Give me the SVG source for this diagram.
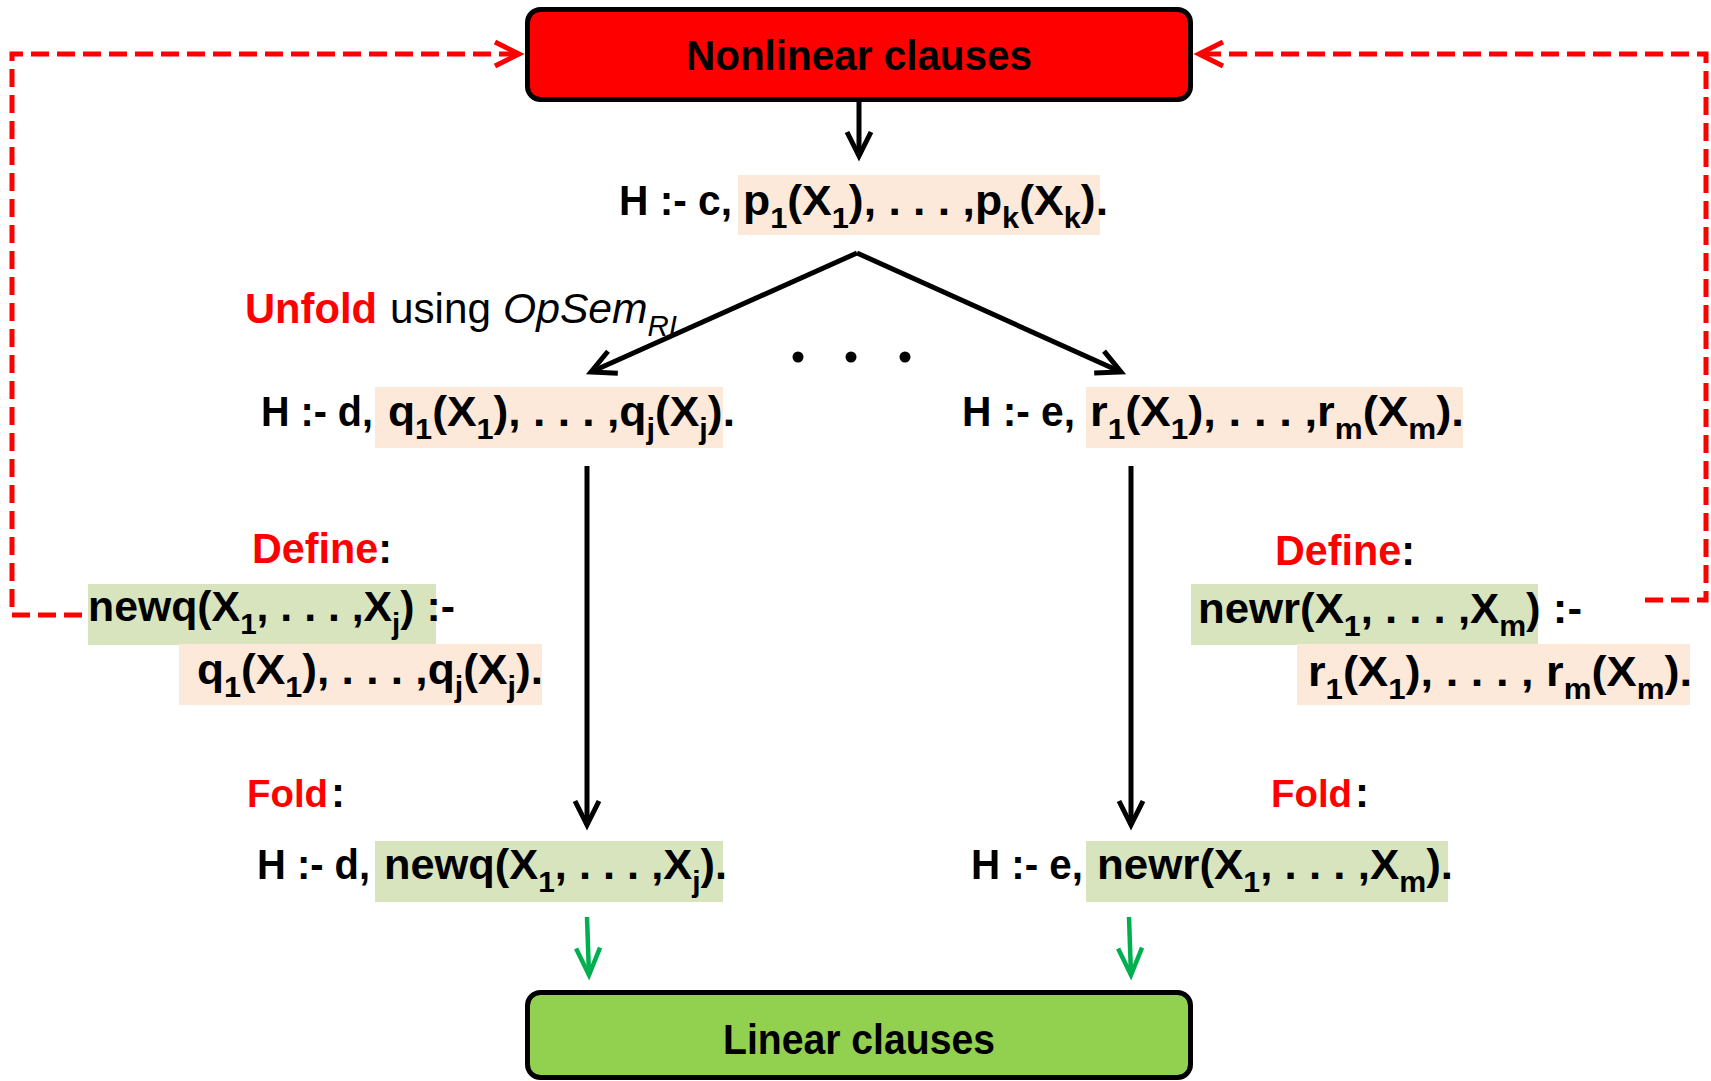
<svg xmlns="http://www.w3.org/2000/svg" width="1711" height="1081" viewBox="0 0 1711 1081">
<style>
.t{font-family:"Liberation Sans",Arial,sans-serif;font-weight:bold;font-size:42px;fill:#000}
.f{font-size:38px}
.s{font-size:29px}
.red{fill:#ff0000}
.n{font-weight:normal}
.i{font-style:italic;font-weight:normal}
.peach{fill:#fde9d9}
.lg{fill:#d7e4bd}
.blk{stroke:#000;stroke-width:5;fill:none}
.grn{stroke:#00b050;stroke-width:4.5;fill:none}
.dash{stroke:#ff0000;stroke-width:5;fill:none;stroke-dasharray:18 8}
</style>
<defs>
<marker id="ab" markerUnits="userSpaceOnUse" markerWidth="40" markerHeight="40" refX="0" refY="0" orient="auto" overflow="visible"><path d="M-24,-12 L0,0 L-24,12" fill="none" stroke="#000" stroke-width="5"/></marker>
<marker id="ag" markerUnits="userSpaceOnUse" markerWidth="40" markerHeight="40" refX="0" refY="0" orient="auto" overflow="visible"><path d="M-27,-12 L0,0 L-27,12" fill="none" stroke="#00b050" stroke-width="4.5"/></marker>
<marker id="ar" markerUnits="userSpaceOnUse" markerWidth="40" markerHeight="40" refX="0" refY="0" orient="auto" overflow="visible"><path d="M-24,-12 L0,0 L-24,12" fill="none" stroke="#ff0000" stroke-width="5"/></marker>
</defs>
<rect width="1711" height="1081" fill="#fff"/>

<g id="connectors">
<line class="blk" x1="859" y1="101" x2="859" y2="156" marker-end="url(#ab)"/>
<line class="blk" x1="857" y1="253" x2="591" y2="372" marker-end="url(#ab)"/>
<line class="blk" x1="857" y1="253" x2="1121" y2="372" marker-end="url(#ab)"/>
<line class="blk" x1="587" y1="466" x2="587" y2="825" marker-end="url(#ab)"/>
<line class="blk" x1="1131" y1="466" x2="1131" y2="825" marker-end="url(#ab)"/>
<line class="grn" x1="587" y1="917" x2="589" y2="975" marker-end="url(#ag)"/>
<line class="grn" x1="1129" y1="917" x2="1131" y2="975" marker-end="url(#ag)"/>
<path class="dash" d="M82,615 H12 V54 H519" marker-end="url(#ar)"/>
<path class="dash" d="M1645,600 H1706 V54 H1199" marker-end="url(#ar)"/>
</g>

<g id="nonlinear">
<rect x="527.5" y="9.5" width="663" height="90" rx="13" fill="#ff0000" stroke="#000" stroke-width="5"/>
<text class="t" x="686" y="70" textLength="346" lengthAdjust="spacingAndGlyphs">Nonlinear clauses</text>
</g>

<g id="clause-c">
<rect class="peach" x="738" y="175" width="362" height="60"/>
<text class="t" x="619" y="215" textLength="113" lengthAdjust="spacingAndGlyphs">H :- c,</text>
<text class="t" x="743" y="215" textLength="365" lengthAdjust="spacingAndGlyphs">p<tspan class="s" dy="13">1</tspan><tspan dy="-13">(X</tspan><tspan class="s" dy="13">1</tspan><tspan dy="-13">), . . . ,p</tspan><tspan class="s" dy="13">k</tspan><tspan dy="-13">(X</tspan><tspan class="s" dy="13">k</tspan><tspan dy="-13">).</tspan></text>
</g>

<g id="unfold-label">
<text class="t red" x="245" y="323" textLength="132" lengthAdjust="spacingAndGlyphs">Unfold</text>
<text class="t n" x="390" y="323" textLength="101" lengthAdjust="spacingAndGlyphs">using</text>
<text class="t i" x="503" y="323" textLength="174" lengthAdjust="spacingAndGlyphs">OpSem<tspan class="s" dy="13">RI</tspan></text>
</g>

<g id="ellipsis">
<circle cx="798" cy="357" r="5.5"/>
<circle cx="851" cy="357" r="5.5"/>
<circle cx="905" cy="357" r="5.5"/>
</g>

<g id="clause-d">
<rect class="peach" x="375" y="387" width="348" height="61"/>
<text class="t" x="261" y="426" textLength="112" lengthAdjust="spacingAndGlyphs">H :- d,</text>
<text class="t" x="388" y="426" textLength="347" lengthAdjust="spacingAndGlyphs">q<tspan class="s" dy="13">1</tspan><tspan dy="-13">(X</tspan><tspan class="s" dy="13">1</tspan><tspan dy="-13">), . . . ,q</tspan><tspan class="s" dy="13">j</tspan><tspan dy="-13">(X</tspan><tspan class="s" dy="13">j</tspan><tspan dy="-13">).</tspan></text>
</g>

<g id="clause-e">
<rect class="peach" x="1086" y="387" width="377" height="61"/>
<text class="t" x="962" y="426" textLength="113" lengthAdjust="spacingAndGlyphs">H :- e,</text>
<text class="t" x="1090" y="426" textLength="374" lengthAdjust="spacingAndGlyphs">r<tspan class="s" dy="13">1</tspan><tspan dy="-13">(X</tspan><tspan class="s" dy="13">1</tspan><tspan dy="-13">), . . . ,r</tspan><tspan class="s" dy="13">m</tspan><tspan dy="-13">(X</tspan><tspan class="s" dy="13">m</tspan><tspan dy="-13">).</tspan></text>
</g>

<g id="define-left">
<text class="t" x="252" y="563" textLength="140" lengthAdjust="spacingAndGlyphs"><tspan class="red">Define</tspan>:</text>
<rect class="lg" x="88" y="584" width="348" height="61"/>
<rect class="peach" x="179" y="644" width="363" height="61"/>
<text class="t" x="88" y="621" textLength="367" lengthAdjust="spacingAndGlyphs">newq(X<tspan class="s" dy="13">1</tspan><tspan dy="-13">, . . . ,X</tspan><tspan class="s" dy="13">j</tspan><tspan dy="-13">) :-</tspan></text>
<text class="t" x="197" y="684" textLength="346" lengthAdjust="spacingAndGlyphs">q<tspan class="s" dy="13">1</tspan><tspan dy="-13">(X</tspan><tspan class="s" dy="13">1</tspan><tspan dy="-13">), . . . ,q</tspan><tspan class="s" dy="13">j</tspan><tspan dy="-13">(X</tspan><tspan class="s" dy="13">j</tspan><tspan dy="-13">).</tspan></text>
</g>

<g id="define-right">
<text class="t" x="1275" y="565" textLength="140" lengthAdjust="spacingAndGlyphs"><tspan class="red">Define</tspan>:</text>
<rect class="lg" x="1191" y="584" width="347" height="61"/>
<rect class="peach" x="1297" y="644" width="393" height="61"/>
<text class="t" x="1198" y="623" textLength="384" lengthAdjust="spacingAndGlyphs">newr(X<tspan class="s" dy="13">1</tspan><tspan dy="-13">, . . . ,X</tspan><tspan class="s" dy="13">m</tspan><tspan dy="-13">) :-</tspan></text>
<text class="t" x="1308" y="686" textLength="384" lengthAdjust="spacingAndGlyphs">r<tspan class="s" dy="13">1</tspan><tspan dy="-13">(X</tspan><tspan class="s" dy="13">1</tspan><tspan dy="-13">), . . . , r</tspan><tspan class="s" dy="13">m</tspan><tspan dy="-13">(X</tspan><tspan class="s" dy="13">m</tspan><tspan dy="-13">).</tspan></text>
</g>

<g id="fold-left">
<text class="t f red" x="247" y="807" textLength="81" lengthAdjust="spacingAndGlyphs">Fold</text>
<text class="t" x="331" y="807">:</text>
<rect class="lg" x="375" y="841" width="348" height="61"/>
<text class="t" x="257" y="879" textLength="113" lengthAdjust="spacingAndGlyphs">H :- d,</text>
<text class="t" x="384" y="879" textLength="343" lengthAdjust="spacingAndGlyphs">newq(X<tspan class="s" dy="13">1</tspan><tspan dy="-13">, . . . ,X</tspan><tspan class="s" dy="13">j</tspan><tspan dy="-13">).</tspan></text>
</g>

<g id="fold-right">
<text class="t f red" x="1271" y="807" textLength="81" lengthAdjust="spacingAndGlyphs">Fold</text>
<text class="t" x="1355" y="807">:</text>
<rect class="lg" x="1086" y="841" width="362" height="61"/>
<text class="t" x="971" y="879" textLength="112" lengthAdjust="spacingAndGlyphs">H :- e,</text>
<text class="t" x="1097" y="879" textLength="356" lengthAdjust="spacingAndGlyphs">newr(X<tspan class="s" dy="13">1</tspan><tspan dy="-13">, . . . ,X</tspan><tspan class="s" dy="13">m</tspan><tspan dy="-13">).</tspan></text>
</g>

<g id="linear">
<rect x="527.5" y="992.5" width="663" height="85" rx="13" fill="#92d050" stroke="#000" stroke-width="5"/>
<text class="t" x="723" y="1054" textLength="272" lengthAdjust="spacingAndGlyphs">Linear clauses</text>
</g>
</svg>
